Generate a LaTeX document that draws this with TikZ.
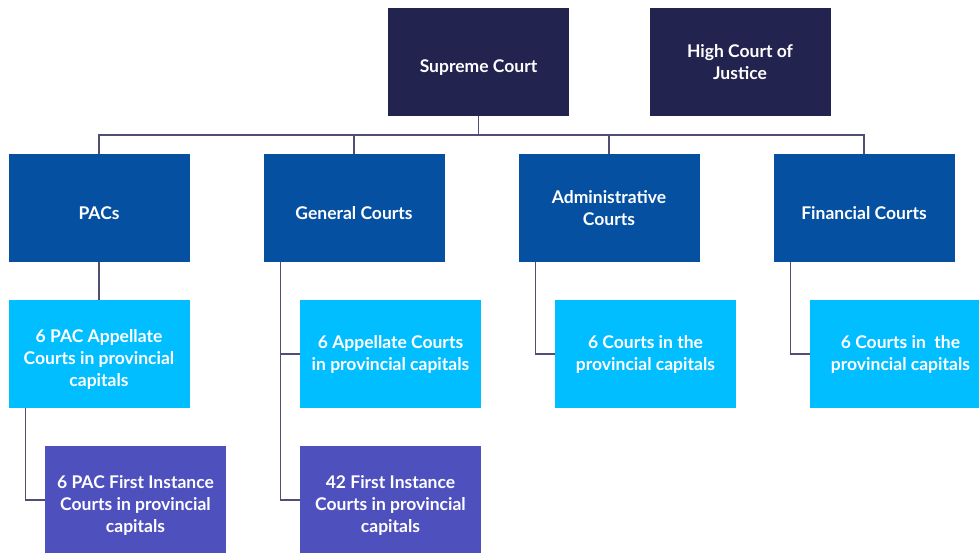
\documentclass[tikz,border=0pt]{standalone}
\usepackage{fontspec}
\setmainfont{Lato}
\usepackage{tikz}
\usetikzlibrary{positioning}

\definecolor{navy}{HTML}{23234F}
\definecolor{courtblue}{HTML}{0650A2}
\definecolor{skyblue}{HTML}{00BEFF}
\definecolor{violet}{HTML}{4E50BE}
\definecolor{linkgrey}{HTML}{4F4F75}

% a taller first line, so the text sits a little lower in its box
\newcommand{\dropline}{\rule{0pt}{23pt}}

\tikzset{
  court/.style={minimum width=181pt, minimum height=108pt, inner sep=0pt,
    align=center, text=white, font=\bfseries\fontsize{17.5}{22}\selectfont},
  supreme/.style={court, fill=navy},
  branch/.style={court, fill=courtblue},
  appeal/.style={court, fill=skyblue},
  firstinst/.style={court, fill=violet},
  link/.style={draw=linkgrey, line width=1.1pt}
}

\begin{document}
\begin{tikzpicture}[x=1pt, y=-1pt]

  \useasboundingbox (0,0) rectangle (979,552);

  % top level
  \node[supreme] (sc) at (478.5,62) {\dropline Supreme Court};
  \node[supreme] (hcj) at (740,62) {High Court of\\Justice};

  % branches
  \node[branch] (pacs) at (99,208) {\dropline PACs};
  \node[branch] (gen) at (354,208) {\dropline General Courts};
  \node[branch] (adm) at (609,208) {Administrative\\Courts};
  \node[branch] (fin) at (864,208) {\dropline Financial Courts};

  % appellate level
  \node[appeal] (pacapp) at (99,354) {\dropline 6 PAC Appellate\\Courts in provincial\\capitals};
  \node[appeal] (genapp) at (390.5,354) {6 Appellate Courts\\in provincial capitals};
  \node[appeal] (admcrt) at (645.5,354) {6 Courts in the\\provincial capitals};
  \node[appeal] (fincrt) at (900.5,354) {6 Courts in\ \ the\\provincial capitals};

  % first instance
  \node[firstinst] (pacfi) at (135.5,500) {\dropline 6 PAC First Instance\\Courts in provincial\\capitals};
  \node[firstinst] (genfi) at (390.5,500) {\dropline 42 First Instance\\Courts in provincial\\capitals};

  % connectors
  \coordinate (bus) at (478.5,135);
  \draw[link] (sc.south) -- (bus);
  \draw[link] (pacs.north) |- (bus) -| (fin.north);
  \draw[link] (gen.north) |- (bus);
  \draw[link] (adm.north) |- (bus);

  \draw[link] (pacs.south) -- (pacapp.north);
  \draw[link] ([xshift=17pt]pacapp.south west) |- (pacfi.west);

  \draw[link] ([xshift=17pt]gen.south west) |- (genapp.west);
  \draw[link] ([xshift=17pt]gen.south west) |- (genfi.west);

  \draw[link] ([xshift=17pt]adm.south west) |- (admcrt.west);
  \draw[link] ([xshift=17pt]fin.south west) |- (fincrt.west);

\end{tikzpicture}
\end{document}
